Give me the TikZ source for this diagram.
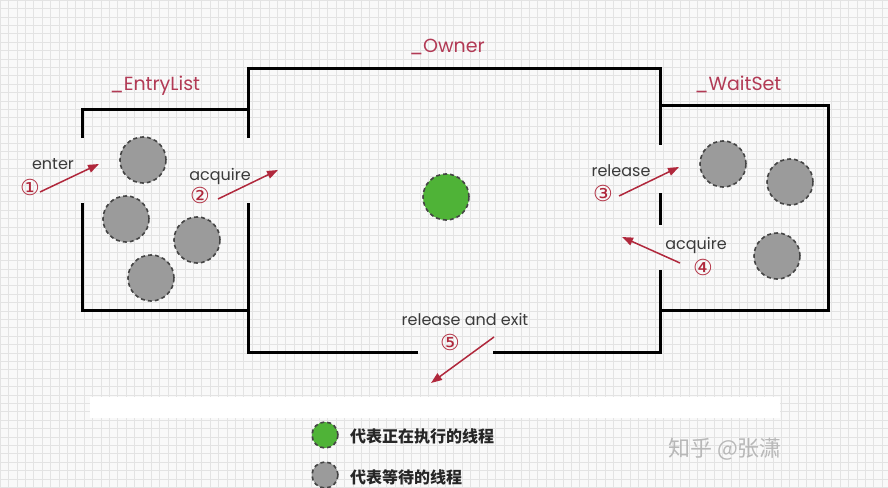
\documentclass[tikz,border=0pt]{standalone}
\usepackage{fontspec}
\setmainfont{Poppins}
\newfontfamily\cjk{Noto Sans CJK SC}
\newfontfamily\symf{DejaVu Sans}
\usetikzlibrary{arrows.meta}
\definecolor{lbl}{HTML}{B23A55}
\definecolor{arr}{HTML}{B0283C}
\definecolor{txt}{HTML}{3A3A3A}
\definecolor{gfill}{HTML}{9B9B9B}
\definecolor{gborder}{HTML}{444444}
\definecolor{run}{HTML}{4FB337}
\definecolor{bgc}{HTML}{F9F9F9}
\definecolor{gridc}{HTML}{E3E3E3}
\definecolor{wm}{HTML}{B8B8B8}
\tikzset{
  wall/.style={line width=3pt, black},
  waiting/.style={circle, minimum size=46pt, inner sep=0pt, fill=gfill, draw=gborder, line width=1.6pt, dash pattern=on 4pt off 3pt},
  running/.style={waiting, fill=run},
  title/.style={text=lbl, font=\fontsize{19}{19}\selectfont},
  word/.style={text=txt, font=\fontsize{16}{16}\selectfont, inner sep=0pt},
  num/.style={text=arr, font=\symf\fontsize{22}{22}\selectfont, inner sep=0pt},
  flow/.style={draw=arr, line width=1.5pt, -{Triangle[length=11pt,width=8pt]}},
  legendtext/.style={anchor=west, text=black!85, font=\cjk\bfseries\fontsize{16}{16}\selectfont, inner sep=0pt}
}
\begin{document}
\begin{tikzpicture}[x=1pt,y=-1pt]
\useasboundingbox (0,0) rectangle (888,487);
\fill[bgc] (0,0) rectangle (888,487);
\foreach \i in {0,...,106} \draw[gridc, line width=0.5pt] (\i*8.4,0) -- (\i*8.4,487);
\foreach \j in {0,...,58} \draw[gridc, line width=0.5pt] (0,\j*8.4) -- (888,\j*8.4);
\fill[white] (90,397) rectangle (780,418);

% EntryList box
\draw[wall] (82,138) -- (82,109) -- (248,109);
\draw[wall] (82,203) -- (82,310) -- (248,310);
% Owner box
\draw[wall] (248,138) -- (248,68) -- (660,68) -- (660,145);
\draw[wall] (248,203) -- (248,352) -- (418,352);
\draw[wall] (493,352) -- (660,352) -- (660,270);
\draw[wall] (660,193) -- (660,225);
% WaitSet box
\draw[wall] (660,105) -- (828,105) -- (828,310) -- (660,310);

% titles
\node[title] (tentry) at (155,86) {\_EntryList};
\node[title] (towner) at (447,47) {\_Owner};
\node[title] (twait) at (738,84) {\_WaitSet};

% threads
\node[waiting] (e1) at (143,160) {};
\node[waiting] (e2) at (126,219) {};
\node[waiting] (e3) at (197,240) {};
\node[waiting] (e4) at (151,278) {};
\node[waiting] (w1) at (723,164) {};
\node[waiting] (w2) at (790,182) {};
\node[waiting] (w3) at (777,256) {};
\node[running] (o1) at (446,197) {};

% arrows
\coordinate (a1s) at (40,192); \coordinate (a1e) at (99,164);
\coordinate (a2s) at (218,199); \coordinate (a2e) at (278,170);
\coordinate (a3s) at (619,196); \coordinate (a3e) at (679,167);
\coordinate (a4s) at (680,263); \coordinate (a4e) at (622,237);
\coordinate (a5s) at (494,337); \coordinate (a5e) at (431,383);
\draw[flow] (a1s) -- (a1e);
\draw[flow] (a2s) -- (a2e);
\draw[flow] (a3s) -- (a3e);
\draw[flow] (a4s) -- (a4e);
\draw[flow] (a5s) -- (a5e);

\node[word] (l1) at (53,164) {enter};
\node[num] (n1) at (30,187) {①};
\node[word] (l2) at (220,176) {acquire};
\node[num] (n2) at (200,195) {②};
\node[word] (l3) at (621,171) {release};
\node[num] (n3) at (603,193) {③};
\node[word] (l4) at (696,245) {acquire};
\node[num] (n4) at (703,267) {④};
\node[word] (l5) at (465,319) {release and exit};
\node[num] (n5) at (450,342) {⑤};

% legend
\node[running, minimum size=26pt] (lg1) at (325,435) {};
\node[waiting, minimum size=26pt] (lg2) at (325,475) {};
\node[legendtext] (lt1) at (350,436) {代表正在执行的线程};
\node[legendtext] (lt2) at (350,477) {代表等待的线程};

% watermark
\node[anchor=west, text=wm, font=\cjk\fontsize{22}{22}\selectfont, inner sep=0pt] (wmk) at (668,449) {知乎 @张潇};
\end{tikzpicture}
\end{document}
